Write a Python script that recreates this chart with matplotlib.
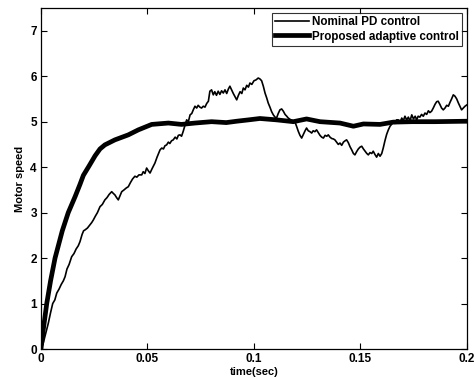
import matplotlib
matplotlib.use("Agg")
import matplotlib.pyplot as plt

# Nominal PD control (noisy trace)
t_pd = [0.0000, 0.0010, 0.0020, 0.0034, 0.0045, 0.0055, 0.0065, 0.0074, 0.0085, 0.0095,
        0.0105, 0.0113, 0.0122, 0.0132, 0.0144, 0.0155, 0.0165, 0.0175, 0.0183, 0.0193,
        0.0200, 0.0207, 0.0218, 0.0228, 0.0238, 0.0246, 0.0255, 0.0265, 0.0277, 0.0288,
        0.0300, 0.0310, 0.0320, 0.0332, 0.0340, 0.0347, 0.0355, 0.0363, 0.0371, 0.0379,
        0.0390, 0.0400, 0.0410, 0.0420, 0.0430, 0.0441, 0.0450, 0.0460, 0.0473, 0.0480,
        0.0488, 0.0496, 0.0504, 0.0512, 0.0522, 0.0535, 0.0545, 0.0552, 0.0559, 0.0567,
        0.0575, 0.0582, 0.0590, 0.0598, 0.0605, 0.0613, 0.0621, 0.0630, 0.0638, 0.0645,
        0.0653, 0.0660, 0.0668, 0.0676, 0.0684, 0.0692, 0.0700, 0.0708, 0.0715, 0.0723,
        0.0731, 0.0738, 0.0746, 0.0754, 0.0762, 0.0770, 0.0778, 0.0786, 0.0793, 0.0801,
        0.0809, 0.0816, 0.0824, 0.0832, 0.0840, 0.0848, 0.0856, 0.0864, 0.0872, 0.0880,
        0.0887, 0.0895, 0.0903, 0.0911, 0.0919, 0.0927, 0.0935, 0.0943, 0.0950, 0.0958,
        0.0966, 0.0974, 0.0981, 0.0990, 0.1000, 0.1010, 0.1020, 0.1028, 0.1036, 0.1044,
        0.1052, 0.1060, 0.1067, 0.1075, 0.1083, 0.1091, 0.1099, 0.1106, 0.1114, 0.1122,
        0.1130, 0.1138, 0.1146, 0.1154, 0.1161, 0.1170, 0.1180, 0.1192, 0.1200, 0.1208,
        0.1216, 0.1224, 0.1232, 0.1240, 0.1247, 0.1255, 0.1263, 0.1271, 0.1278, 0.1286,
        0.1294, 0.1302, 0.1310, 0.1318, 0.1326, 0.1334, 0.1342, 0.1349, 0.1357, 0.1365,
        0.1373, 0.1380, 0.1388, 0.1396, 0.1404, 0.1412, 0.1420, 0.1428, 0.1435, 0.1443,
        0.1451, 0.1459, 0.1467, 0.1474, 0.1482, 0.1490, 0.1498, 0.1506, 0.1514, 0.1522,
        0.1530, 0.1537, 0.1545, 0.1553, 0.1560, 0.1568, 0.1576, 0.1584, 0.1592, 0.1600,
        0.1607, 0.1615, 0.1623, 0.1631, 0.1639, 0.1646, 0.1654, 0.1662, 0.1670, 0.1678,
        0.1686, 0.1694, 0.1701, 0.1709, 0.1717, 0.1725, 0.1733, 0.1741, 0.1749, 0.1757,
        0.1764, 0.1771, 0.1779, 0.1787, 0.1795, 0.1803, 0.1811, 0.1819, 0.1826, 0.1834,
        0.1842, 0.1850, 0.1858, 0.1865, 0.1873, 0.1881, 0.1889, 0.1897, 0.1905, 0.1913,
        0.1920, 0.1928, 0.1936, 0.1944, 0.1952, 0.1960, 0.1968, 0.1975, 0.1983, 0.1991,
        0.2000]
y_pd = [0.00, 0.12, 0.30, 0.56, 0.80, 1.00, 1.08, 1.23, 1.32, 1.42,
        1.50, 1.59, 1.76, 1.86, 2.03, 2.10, 2.20, 2.27, 2.36, 2.52,
        2.60, 2.62, 2.66, 2.72, 2.78, 2.84, 2.92, 3.00, 3.13, 3.18,
        3.28, 3.33, 3.40, 3.46, 3.42, 3.39, 3.33, 3.28, 3.37, 3.46,
        3.50, 3.54, 3.57, 3.66, 3.74, 3.80, 3.78, 3.83, 3.83, 3.90,
        3.86, 3.98, 3.92, 3.87, 3.97, 4.09, 4.22, 4.30, 4.38, 4.42,
        4.40, 4.47, 4.49, 4.55, 4.52, 4.58, 4.60, 4.66, 4.62, 4.70,
        4.71, 4.68, 4.79, 4.92, 5.04, 5.00, 5.15, 5.18, 5.26, 5.34,
        5.30, 5.36, 5.32, 5.30, 5.34, 5.32, 5.40, 5.45, 5.67, 5.70,
        5.59, 5.66, 5.58, 5.67, 5.60, 5.68, 5.63, 5.70, 5.62, 5.72,
        5.78, 5.70, 5.62, 5.55, 5.48, 5.58, 5.66, 5.62, 5.74, 5.70,
        5.80, 5.76, 5.85, 5.82, 5.90, 5.92, 5.96, 5.94, 5.90, 5.78,
        5.63, 5.52, 5.41, 5.32, 5.22, 5.15, 5.10, 5.08, 5.18, 5.26,
        5.28, 5.23, 5.16, 5.12, 5.08, 5.05, 5.02, 5.00, 4.90, 4.79,
        4.70, 4.64, 4.72, 4.80, 4.86, 4.80, 4.78, 4.75, 4.80, 4.78,
        4.82, 4.76, 4.70, 4.66, 4.64, 4.70, 4.68, 4.71, 4.66, 4.63,
        4.62, 4.60, 4.55, 4.50, 4.53, 4.48, 4.55, 4.58, 4.60, 4.54,
        4.45, 4.38, 4.30, 4.27, 4.34, 4.40, 4.44, 4.46, 4.40, 4.35,
        4.30, 4.27, 4.32, 4.30, 4.35, 4.28, 4.22, 4.30, 4.24, 4.30,
        4.42, 4.58, 4.72, 4.82, 4.90, 4.94, 5.00, 4.96, 5.04, 5.04,
        4.98, 5.08, 5.02, 5.12, 5.04, 5.10, 5.02, 5.15, 5.06, 5.12,
        5.04, 5.12, 5.10, 5.16, 5.12, 5.19, 5.16, 5.24, 5.20, 5.23,
        5.30, 5.38, 5.44, 5.45, 5.38, 5.30, 5.26, 5.30, 5.36, 5.34,
        5.42, 5.50, 5.59, 5.56, 5.50, 5.41, 5.33, 5.26, 5.30, 5.34,
        5.37]

# Proposed adaptive control (smooth trace)
t_ad = [0.0, 0.0010, 0.0027, 0.0045, 0.0066, 0.0100, 0.0128, 0.0160, 0.0183,
        0.0199, 0.0225, 0.0254, 0.0277, 0.0300, 0.0347, 0.0410, 0.0457, 0.0520,
        0.0598, 0.0660, 0.0723, 0.0801, 0.0870, 0.0919, 0.0975, 0.1028, 0.1106,
        0.1185, 0.1247, 0.1310, 0.1404, 0.1467, 0.1514, 0.1592, 0.1654, 0.1741,
        0.1850, 0.2000]
y_ad = [0.00, 0.40, 1.00, 1.50, 2.00, 2.60, 3.00, 3.35, 3.62,
        3.82, 4.02, 4.25, 4.40, 4.49, 4.60, 4.71, 4.82, 4.94,
        4.97, 4.94, 4.97, 5.00, 4.98, 5.01, 5.04, 5.07, 5.04,
        5.00, 5.06, 5.00, 4.97, 4.90, 4.95, 4.94, 4.99, 5.00,
        5.00, 5.01]

plt.rcParams["font.family"] = ["Liberation Sans", "DejaVu Sans"]
plt.rcParams["font.weight"] = "bold"

fig = plt.figure(figsize=(4.75, 3.78), dpi=100)
ax = fig.add_axes([0.0863, 0.0767, 0.8967, 0.9021])

ax.plot(t_pd, y_pd, color="k", lw=1.2, label="Nominal PD control")
ax.plot(t_ad, y_ad, color="k", lw=3.4, label="Proposed adaptive control")

ax.set_xlim(0, 0.2)
ax.set_ylim(0, 7.5)
ax.set_xticks([0, 0.05, 0.1, 0.15, 0.2])
ax.set_xticklabels(["0", "0.05", "0.1", "0.15", "0.2"])
ax.set_yticks(range(8))
ax.tick_params(direction="in", top=True, right=True, labelsize=8.5, length=4, width=0.8, pad=3)
for lab in ax.get_xticklabels() + ax.get_yticklabels():
    lab.set_fontweight("bold")
ax.set_xlabel("time(sec)", fontsize=8, fontweight="bold", labelpad=1)
ax.set_ylabel("Motor speed", fontsize=8, fontweight="bold", labelpad=4)
for s in ax.spines.values():
    s.set_linewidth(0.9)

leg = ax.legend(loc="upper right", fontsize=8.4, frameon=True, fancybox=False,
                edgecolor="k", handlelength=2.9, handletextpad=0.25, borderpad=0.3,
                labelspacing=0.2, borderaxespad=0.4)
leg.get_frame().set_linewidth(0.8)
for txt in leg.get_texts():
    txt.set_fontweight("bold")

fig.savefig("out.png", dpi=100)
